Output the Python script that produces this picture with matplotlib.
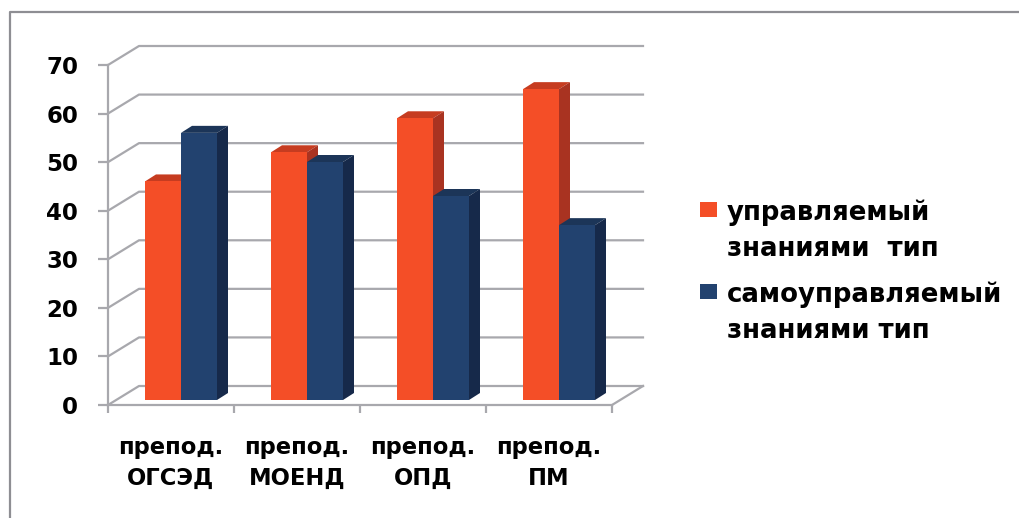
import matplotlib.pyplot as plt
from matplotlib.patches import Polygon, Rectangle
from matplotlib.lines import Line2D

W, H = 1019, 518

categories = ["препод.\nОГСЭД", "препод.\nМОЕНД", "препод.\nОПД", "препод.\nПМ"]
managed = [45, 51, 58, 64]
self_managed = [55, 49, 42, 36]
y_ticks = [0, 10, 20, 30, 40, 50, 60, 70]
legend_labels = ["управляемый\nзнаниями  тип", "самоуправляемый\nзнаниями тип"]

RED, RED_TOP, RED_SIDE = "#f44e27", "#c63c20", "#a93321"
BLUE, BLUE_TOP, BLUE_SIDE = "#22426f", "#1c3558", "#16294a"
GRID = "#a8a8ad"
FRAME = "#8e8e93"
FONT = "DejaVu Sans"

fig = plt.figure(figsize=(W / 100, H / 100), dpi=100)

# axes box = front plane of the fake 3d chart
ax = fig.add_axes([108 / W, 1 - 405 / H, 504 / W, 340 / H])
ax.set_xlim(0, 4)
ax.set_ylim(0, 70)
ax.patch.set_alpha(0)

px_x = 4 / 504
px_y = 70 / 340
back_dx, back_dy = 31 * px_x, 19 * px_y
bar_dx, bar_dy = 11 * px_x, 7 * px_y
base = 5 * px_y
bar_w = 36 * px_x
bar_off = 37 * px_x

# walls
for v in y_ticks:
    ax.plot([0, back_dx, 4 + back_dx], [v, v + back_dy, v + back_dy],
            color=GRID, lw=1.6, clip_on=False, zorder=1)
ax.plot([4, 4 + back_dx], [0, back_dy], color=GRID, lw=1.6, clip_on=False, zorder=1)


def draw_bars(values, shift, front, top, side, z):
    xs = [i + bar_off + shift for i in range(len(values))]
    ax.bar(xs, values, bar_w, bottom=base, align="edge", color=front, zorder=z + 0.2)
    for x, v in zip(xs, values):
        t = v + base
        ax.add_patch(Polygon([(x, t), (x + bar_dx, t + bar_dy),
                              (x + bar_w + bar_dx, t + bar_dy), (x + bar_w, t)],
                             color=top, lw=0, clip_on=False, zorder=z))
        ax.add_patch(Polygon([(x + bar_w, base), (x + bar_w + bar_dx, base + bar_dy),
                              (x + bar_w + bar_dx, t + bar_dy), (x + bar_w, t)],
                             color=side, lw=0, clip_on=False, zorder=z + 0.1))


draw_bars(managed, 0, RED, RED_TOP, RED_SIDE, 3)
draw_bars(self_managed, bar_w, BLUE, BLUE_TOP, BLUE_SIDE, 4)

for s in ["top", "right"]:
    ax.spines[s].set_visible(False)
for s in ["left", "bottom"]:
    ax.spines[s].set_color(GRID)
    ax.spines[s].set_linewidth(1.6)
    ax.spines[s].set_zorder(2)

ax.set_yticks(y_ticks)
ax.tick_params(axis="y", length=7.5, width=1.6, color=GRID, pad=14,
               labelsize=16.5, labelcolor="black")
for lab in ax.get_yticklabels():
    lab.set_fontweight("bold")
    lab.set_family(FONT)

ax.set_xticks(range(5))
ax.set_xticklabels([])
ax.tick_params(axis="x", length=6, width=1.6, color=GRID)
ax.set_xticks([i + 0.5 for i in range(4)], minor=True)
ax.set_xticklabels(categories, minor=True, fontsize=16.3, fontweight="bold",
                   family=FONT, linespacing=1.47)
ax.tick_params(axis="x", which="minor", length=0, pad=22)

# legend drawn by hand, the marker sits on the first line of each label
for label, color, y_top in zip(legend_labels, [RED, BLUE], [202, 284]):
    fig.add_artist(Rectangle((700 / W, 1 - (y_top + 15) / H), 17 / W, 15 / H,
                             color=color, lw=0, transform=fig.transFigure))
    fig.text(727 / W, 1 - (y_top - 3) / H, label, ha="left", va="top", fontsize=18.7,
             fontweight="bold", family=FONT, linespacing=1.5)

# outer frame, only top and left are inside the picture
fig.add_artist(Line2D([10 / W, 10 / W, 1], [0, 1 - 12 / H, 1 - 12 / H],
                      color=FRAME, lw=1.6, transform=fig.transFigure))

fig.savefig("out.png", dpi=100)
